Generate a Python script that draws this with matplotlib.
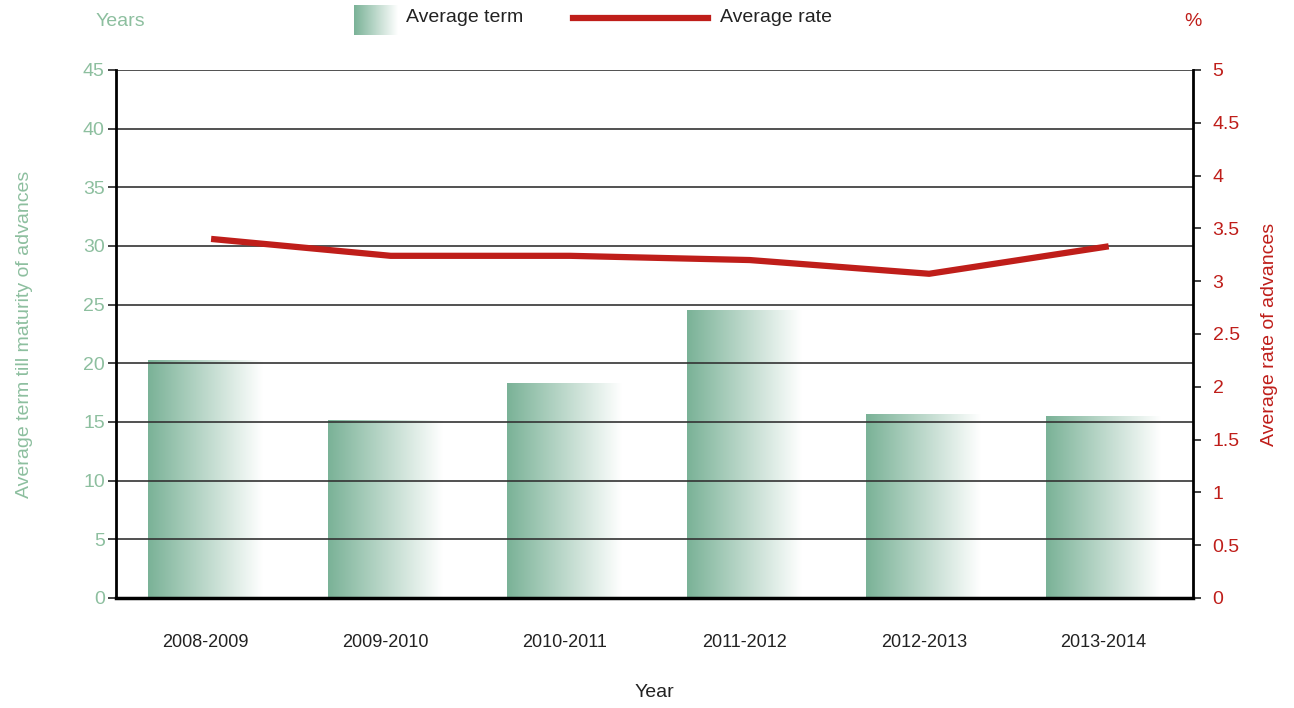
import numpy as np
import matplotlib
matplotlib.use("Agg")
import matplotlib.pyplot as plt

plt.rcParams['font.family'] = ['Liberation Sans Narrow', 'Liberation Sans', 'DejaVu Sans']

years = ['2008-2009', '2009-2010', '2010-2011', '2011-2012', '2012-2013', '2013-2014']
avg_term = [20.2, 15.1, 18.3, 24.5, 15.6, 15.5]
avg_rate = [3.40, 3.24, 3.24, 3.20, 3.07, 3.33]

GREEN = '#7ab297'
GREEN_TXT = '#8dbf9f'
RED = '#bf1e1a'

fig = plt.figure(figsize=(12.94, 7.08), dpi=100)
ax = fig.add_axes([0.0896, 0.1554, 0.8324, 0.7458])
ax2 = ax.twinx()

x = np.arange(len(years))
grad = np.linspace(0, 1, 256).reshape(1, -1)
cmap = matplotlib.colors.LinearSegmentedColormap.from_list('g', [GREEN, '#ffffff'])

# bars with a left-to-right fade, drawn into each bar's own box
bars = ax.bar(x, avg_term, width=0.64, color='none', edgecolor='none', zorder=1)
for b in bars:
    x0, y0 = b.get_x(), b.get_y()
    ax.imshow(grad, extent=[x0, x0 + b.get_width(), y0, y0 + b.get_height()],
              cmap=cmap, aspect='auto', zorder=1, interpolation='bilinear')

ax.set_xlim(-0.5, len(years) - 0.5)
ax.set_ylim(0, 45)
ax.set_yticks(range(0, 46, 5))
ax.yaxis.grid(True, color='#333333', lw=1.2)
for gl in ax.get_ygridlines():
    gl.set_zorder(2)
ax.set_xticks(x)
ax.set_xticklabels(years, fontsize=13, color='#222222')
ax.tick_params(axis='x', length=0, pad=26)
ax.tick_params(axis='y', colors=GREEN_TXT, labelsize=14, length=6, width=1.2, pad=2)
ax.tick_params(axis='y', color='#222222')
ax.spines['left'].set_linewidth(2)
ax.spines['bottom'].set_linewidth(2.5)
ax.spines['top'].set_visible(False)
ax.spines['right'].set_visible(False)
ax.set_xlabel('Year', fontsize=14, color='#222222', labelpad=24)
ax.set_ylabel('Average term till maturity of advances', fontsize=14, color=GREEN_TXT, labelpad=36)

ax2.plot(x + 0.03, avg_rate, color=RED, lw=4.5, solid_capstyle='butt', zorder=5)
ax2.set_ylim(0, 5)
ax2.set_yticks(np.arange(0, 5.01, 0.5))
ax2.set_yticklabels(['0', '0.5', '1', '1.5', '2', '2.5', '3', '3.5', '4', '4.5', '5'])
ax2.tick_params(axis='y', colors=RED, labelsize=14, length=6, width=1.2, pad=8)
ax2.tick_params(axis='y', color='#222222')
for s in ['left', 'top', 'bottom']:
    ax2.spines[s].set_visible(False)
ax2.spines['right'].set_linewidth(2)
ax2.set_ylabel('Average rate of advances', fontsize=14, color=RED, labelpad=15)

fig.text(120 / 1294, 1 - 22 / 708, 'Years', fontsize=14, color=GREEN_TXT, ha='center', va='center')
fig.text(1193 / 1294, 1 - 22 / 708, '%', fontsize=14, color=RED, ha='center', va='center')

# legend
lax = fig.add_axes([354 / 1294, 1 - 35 / 708, 44 / 1294, 30 / 708])
lax.imshow(grad, cmap=cmap, aspect='auto', extent=[0, 1, 0, 1], interpolation='bilinear')
lax.axis('off')
fig.text(406 / 1294, 1 - 18 / 708, 'Average term', fontsize=14, color='#222222', va='center')
fig.add_artist(plt.Line2D([573 / 1294, 708 / 1294], [1 - 18 / 708, 1 - 18 / 708],
                          color=RED, lw=4.5, transform=fig.transFigure))
fig.text(720 / 1294, 1 - 18 / 708, 'Average rate', fontsize=14, color='#222222', va='center')

fig.savefig('out.png', dpi=100)
